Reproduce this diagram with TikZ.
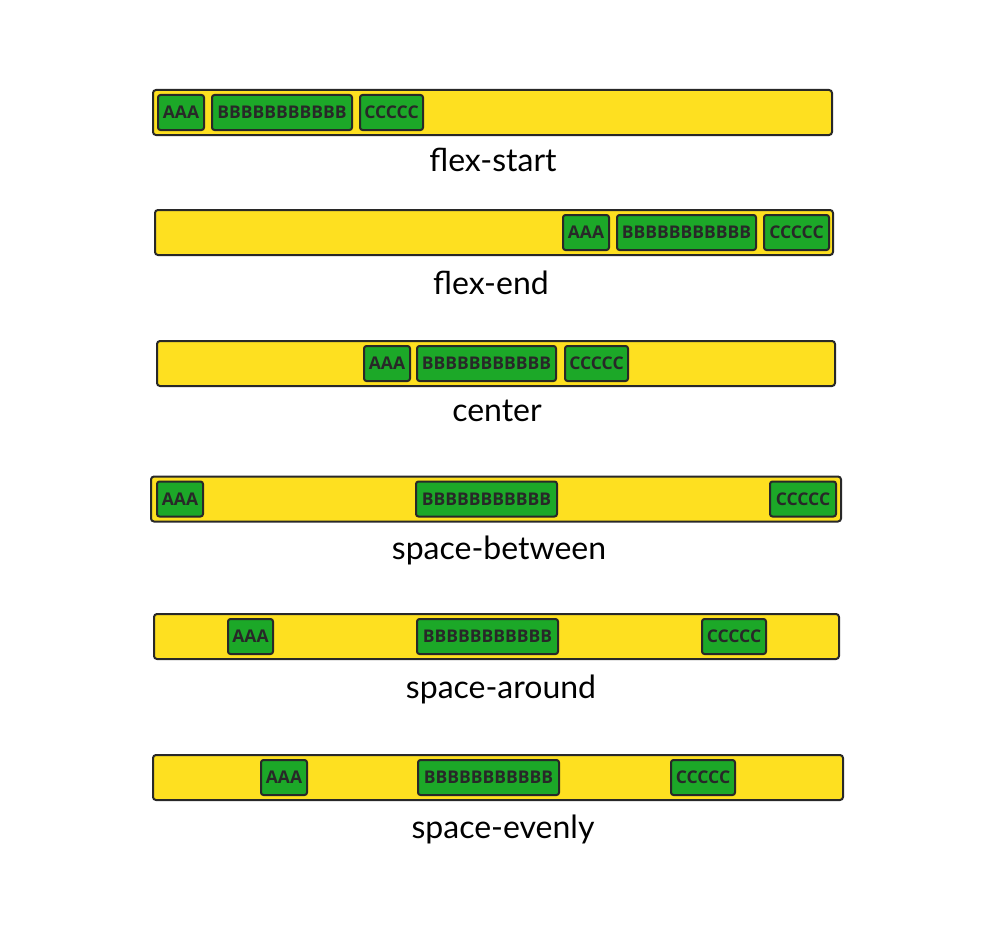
\documentclass[tikz,border=0pt]{standalone}
\usepackage{fontspec}
\setmainfont{Lato}
\newfontfamily\itemfont{Open Sans}
\usetikzlibrary{positioning}
\definecolor{baryellow}{RGB}{254,224,32}
\definecolor{itemgreen}{RGB}{28,168,40}
\definecolor{edgegray}{RGB}{40,40,40}
\begin{document}
\begin{tikzpicture}[
        x=1pt, y=-1pt,
        bar/.style={draw=edgegray, fill=baryellow, line width=2pt, rounded corners=3pt,
            minimum height=45pt, inner sep=0pt},
        item/.style={draw=edgegray, fill=itemgreen, line width=2pt, rounded corners=2.5pt,
            minimum height=35pt, inner sep=0pt, text=edgegray,
            font=\itemfont\bfseries\fontsize{17.5}{17.5}\selectfont},
        lbl/.style={font=\fontsize{32}{32}\selectfont, text=black, inner sep=0pt},
    ]
    \useasboundingbox (0,0) rectangle (1000,939);
    % flex-start
    \node[bar, minimum width=679pt](bar1) at (492.5,112.5){};
    \node[item, minimum width=46pt](a1) at (181,112.5){AAA};
    \node[item, minimum width=140pt](b1) at (282,112.5){BBBBBBBBBBB};
    \node[item, minimum width=63pt](c1) at (391.5,112.5){CCCCC};
    \node[lbl](l1) at (493,160){flex-start};
    % flex-end
    \node[bar, minimum width=678pt](bar2) at (494,232.5){};
    \node[item, minimum width=46pt](a2) at (586,232.5){AAA};
    \node[item, minimum width=139pt](b2) at (686.5,232.5){BBBBBBBBBBB};
    \node[item, minimum width=65pt](c2) at (796.5,232.5){CCCCC};
    \node[lbl](l2) at (491,283){flex-end};
    % center
    \node[bar, minimum width=678pt](bar3) at (496,363.5){};
    \node[item, minimum width=46pt](a3) at (387,363.5){AAA};
    \node[item, minimum width=139pt](b3) at (486.5,363.5){BBBBBBBBBBB};
    \node[item, minimum width=63pt](c3) at (596.5,363.5){CCCCC};
    \node[lbl](l3) at (497,411){center};
    % space-between
    \node[bar, minimum width=690pt](bar4) at (496,499){};
    \node[item, minimum width=46pt](a4) at (180,499){AAA};
    \node[item, minimum width=141pt](b4) at (486.5,499){BBBBBBBBBBB};
    \node[item, minimum width=66pt](c4) at (803,499){CCCCC};
    \node[lbl](l4) at (499,550){space-between};
    % space-around
    \node[bar, minimum width=685pt](bar5) at (496.5,636.5){};
    \node[item, minimum width=45pt](a5) at (250.5,636.5){AAA};
    \node[item, minimum width=141pt](b5) at (487.5,636.5){BBBBBBBBBBB};
    \node[item, minimum width=64pt](c5) at (734,636.5){CCCCC};
    \node[lbl](l5) at (501,689){space-around};
    % space-evenly
    \node[bar, minimum width=690pt](bar6) at (498,777.5){};
    \node[item, minimum width=46pt](a6) at (284,777.5){AAA};
    \node[item, minimum width=141pt](b6) at (488.5,777.5){BBBBBBBBBBB};
    \node[item, minimum width=64pt](c6) at (703,777.5){CCCCC};
    \node[lbl](l6) at (503,829){space-evenly};
\end{tikzpicture}
\end{document}
